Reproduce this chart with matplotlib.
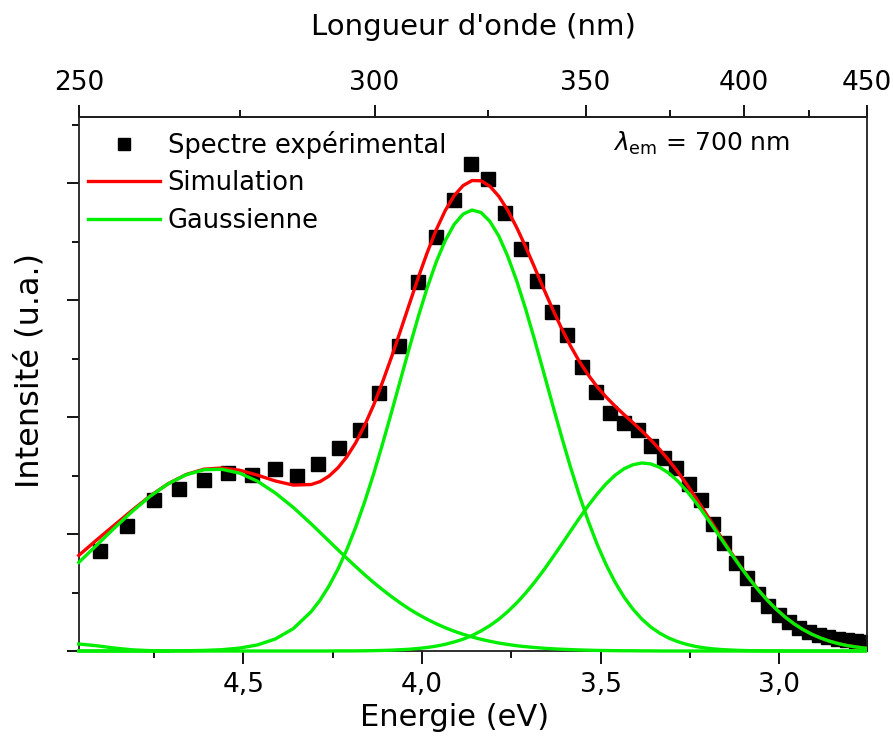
import matplotlib
matplotlib.use("Agg")
import matplotlib.pyplot as plt
import numpy as np
from matplotlib.lines import Line2D
from matplotlib.ticker import FixedLocator, FuncFormatter

HC = 1239.84  # eV.nm

wavelength_nm = [253, 257, 261, 265, 269, 273, 277, 281, 285, 289,
                 293, 297, 301, 305, 309, 313, 317, 321, 325, 329,
                 333, 337, 341, 345, 349, 353, 357, 361, 365, 369,
                 373, 377, 381, 385, 389, 393, 397, 401, 405, 409,
                 413, 417, 421, 425, 429, 433, 437, 441, 445, 449]
intensity_exp = [0.855, 1.068, 1.291, 1.385, 1.462, 1.521, 1.504, 1.556, 1.496, 1.598,
                 1.735, 1.889, 2.205, 2.607, 3.154, 3.538, 3.855, 4.162, 4.034, 3.744,
                 3.436, 3.162, 2.897, 2.701, 2.427, 2.214, 2.034, 1.949, 1.889, 1.752,
                 1.650, 1.564, 1.427, 1.291, 1.085, 0.923, 0.752, 0.624, 0.487, 0.385,
                 0.308, 0.248, 0.197, 0.162, 0.137, 0.120, 0.103, 0.094, 0.085, 0.077]

# fitted curves, energy in eV
energy_fit = [4.96, 4.91, 4.86, 4.81, 4.76, 4.71, 4.66, 4.61, 4.56, 4.51,
              4.46, 4.41, 4.36,
              4.31, 4.285, 4.26, 4.235, 4.21, 4.185, 4.16, 4.135, 4.11, 4.085,
              4.06, 4.035, 4.01, 3.985, 3.96, 3.935, 3.91, 3.885, 3.86, 3.835,
              3.81, 3.785, 3.76, 3.735, 3.71, 3.685, 3.66, 3.635, 3.61, 3.585,
              3.56, 3.535, 3.51, 3.485, 3.46, 3.435, 3.41, 3.385, 3.36, 3.335,
              3.31, 3.285, 3.26, 3.235, 3.21, 3.185, 3.16, 3.135, 3.11, 3.085,
              3.06, 3.035, 3.01, 2.985, 2.96, 2.935, 2.91, 2.885, 2.86, 2.835,
              2.81, 2.785, 2.76]
simulation = [0.817, 0.949, 1.077, 1.204, 1.326, 1.430, 1.508, 1.554, 1.564, 1.545,
              1.503, 1.453, 1.418,
              1.423, 1.448, 1.495, 1.566, 1.661, 1.782, 1.931, 2.104, 2.301, 2.514,
              2.739, 2.968, 3.195, 3.408, 3.601, 3.764, 3.892, 3.978, 4.021, 4.019,
              3.972, 3.886, 3.766, 3.619, 3.454, 3.278, 3.099, 2.925, 2.760, 2.610,
              2.476, 2.360, 2.258, 2.171, 2.093, 2.021, 1.952, 1.881, 1.805, 1.722,
              1.632, 1.534, 1.427, 1.313, 1.196, 1.076, 0.957, 0.840, 0.728, 0.623,
              0.526, 0.438, 0.361, 0.292, 0.234, 0.185, 0.144, 0.111, 0.084, 0.063,
              0.046, 0.034, 0.024]
gauss_1 = [0.757, 0.904, 1.052, 1.194, 1.323, 1.429, 1.506, 1.549, 1.553, 1.520,
           1.451, 1.350, 1.227,
           1.087, 1.013, 0.939, 0.865, 0.792, 0.720, 0.651, 0.585, 0.523, 0.464,
           0.409, 0.358, 0.312, 0.270, 0.233, 0.199, 0.169, 0.143, 0.120, 0.100,
           0.083, 0.068, 0.056, 0.045, 0.037, 0.030, 0.024, 0.019, 0.015, 0.012,
           0.009, 0.007, 0.005, 0.004, 0.003, 0.002, 0.002, 0.001, 0.001, 0,
           0, 0, 0, 0, 0, 0, 0, 0, 0, 0,
           0, 0, 0, 0, 0, 0, 0, 0, 0, 0,
           0, 0, 0]
gauss_2 = [0, 0, 0, 0, 0, 0.001, 0.002, 0.005, 0.011, 0.025,
           0.052, 0.103, 0.191,
           0.336, 0.435, 0.556, 0.700, 0.868, 1.061, 1.278, 1.516, 1.773, 2.043,
           2.319, 2.595, 2.861, 3.108, 3.326, 3.508, 3.646, 3.734, 3.769, 3.748,
           3.672, 3.546, 3.373, 3.163, 2.922, 2.660, 2.386, 2.109, 1.837, 1.576,
           1.333, 1.111, 0.912, 0.738, 0.588, 0.462, 0.358, 0.273, 0.205, 0.152,
           0.111, 0.080, 0.057, 0.039, 0.027, 0.018, 0.012, 0.008, 0.005, 0.003,
           0.002, 0.001, 0.001, 0, 0, 0, 0, 0, 0, 0,
           0, 0, 0]
gauss_3 = [0, 0, 0, 0, 0, 0, 0, 0, 0, 0,
           0, 0, 0,
           0, 0, 0, 0.001, 0.001, 0.001, 0.002, 0.003, 0.005, 0.007,
           0.011, 0.015, 0.022, 0.030, 0.042, 0.057, 0.077, 0.101, 0.132, 0.171,
           0.217, 0.272, 0.337, 0.411, 0.495, 0.588, 0.689, 0.797, 0.908, 1.022,
           1.134, 1.242, 1.341, 1.429, 1.502, 1.557, 1.592, 1.607, 1.599, 1.570,
           1.521, 1.454, 1.370, 1.274, 1.169, 1.058, 0.945, 0.832, 0.723, 0.620,
           0.524, 0.437, 0.360, 0.292, 0.234, 0.185, 0.144, 0.111, 0.084, 0.063,
           0.046, 0.034, 0.024]
# small component visible only at the high-energy edge
energy_edge = [4.96, 4.91, 4.86, 4.81, 4.76, 4.71]
gauss_edge = [0.060, 0.045, 0.025, 0.010, 0.003, 0.0]

x_ticks = [4.5, 4.0, 3.5, 3.0]
x_minor = [4.75, 4.25, 3.75, 3.25]
top_ticks = [250, 300, 350, 400, 450]
top_minor = [275, 325, 375, 425]

RED = "#ff0000"
GREEN = "#00ee00"

plt.rcParams["font.family"] = "DejaVu Sans"


def nm_ev(x):
    x = np.asarray(x, dtype=float)
    with np.errstate(divide="ignore", invalid="ignore"):
        return HC / x


def main():
    fig = plt.figure(figsize=(8.95, 7.51), dpi=100)
    ax = fig.add_axes([79 / 895, 100 / 751, 788 / 895, 534 / 751])

    energy_exp = nm_ev(wavelength_nm)
    ax.plot(energy_exp, intensity_exp, linestyle="None", marker="s",
            markersize=10.5, color="black", zorder=2)
    ax.plot(energy_fit, simulation, color=RED, lw=2.4, zorder=3, clip_on=False)
    for g in (gauss_1, gauss_2, gauss_3):
        ax.plot(energy_fit, g, color=GREEN, lw=2.4, zorder=4, clip_on=False)
    ax.plot(energy_edge, gauss_edge, color=GREEN, lw=2.4, zorder=4, clip_on=False)

    ax.set_xlim(HC / 250, HC / 450)
    ax.set_ylim(0, 534 / 117)

    # bottom axis: energy
    ax.xaxis.set_major_locator(FixedLocator(x_ticks))
    ax.xaxis.set_minor_locator(FixedLocator(x_minor))
    ax.xaxis.set_major_formatter(FuncFormatter(lambda v, p: f"{v:.1f}".replace(".", ",")))
    ax.tick_params(axis="x", which="major", direction="out", length=9, width=1.3,
                   labelsize=19, pad=6)
    ax.tick_params(axis="x", which="minor", direction="out", length=5, width=1.3)

    # left axis: no labels
    ax.yaxis.set_major_locator(FixedLocator([0, 1, 2, 3, 4]))
    ax.yaxis.set_minor_locator(FixedLocator([0.5, 1.5, 2.5, 3.5, 4.5]))
    ax.tick_params(axis="y", which="major", direction="out", length=9, width=1.3,
                   labelleft=False)
    ax.tick_params(axis="y", which="minor", direction="out", length=5, width=1.3)

    for s in ax.spines.values():
        s.set_linewidth(1.3)
        s.set_color("#202020")

    # top axis: wavelength
    top = ax.secondary_xaxis("top", functions=(nm_ev, nm_ev))
    top.xaxis.set_major_locator(FixedLocator(top_ticks))
    top.xaxis.set_minor_locator(FixedLocator(top_minor))
    top.tick_params(axis="x", which="major", direction="out", length=9, width=1.3,
                    labelsize=19, pad=6)
    top.tick_params(axis="x", which="minor", direction="out", length=5, width=1.3)
    top.spines["top"].set_linewidth(1.3)
    top.set_xlabel("Longueur d'onde (nm)", fontsize=21, labelpad=25)

    ax.set_xlabel("Energie (eV)", fontsize=22)
    ax.xaxis.set_label_coords((455 - 79) / 788, -(703 - 651) / 534)
    ax.set_ylabel("Intensité (u.a.)", fontsize=23)
    ax.yaxis.set_label_coords(-(79 - 45) / 788, (651 - 371) / 534)

    handles = [
        Line2D([], [], linestyle="None", marker="s", markersize=8, color="black"),
        Line2D([], [], color=RED, lw=2.4),
        Line2D([], [], color=GREEN, lw=2.4),
    ]
    ax.legend(handles, ["Spectre expérimental", "Simulation", "Gaussienne"],
              loc="upper left", bbox_to_anchor=(-0.005, 0.998), frameon=False,
              fontsize=18.5, handlelength=2.8, handletextpad=0.3,
              labelspacing=0.44, borderpad=0.2, borderaxespad=0.3)

    ax.text(0.678, 0.951, r"$\lambda_{\rm em}$ = 700 nm", transform=ax.transAxes,
            fontsize=18, va="center", ha="left")

    fig.savefig("out.png", dpi=100)


if __name__ == "__main__":
    main()
